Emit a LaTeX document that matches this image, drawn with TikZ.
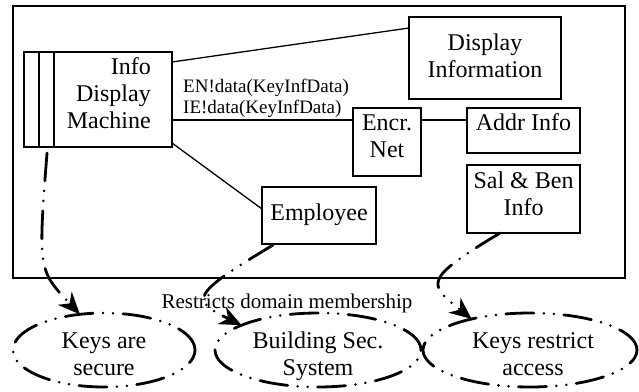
\documentclass[tikz,border=0pt]{standalone}
\usepackage{fontspec}
\setmainfont{Liberation Serif}
\usetikzlibrary{shapes.geometric,arrows.meta,calc}
\begin{document}
\begin{tikzpicture}[x=1pt,y=-1pt,
  box/.style={draw,line width=1.3pt,inner sep=0pt,outer sep=0pt},
  big/.style={font=\fontsize{24}{27}\selectfont,inner sep=0pt,align=center,anchor=base},
  small/.style={font=\fontsize{19}{21}\selectfont,inner sep=0pt,anchor=base west},
  ddot/.style={line width=2.8pt,line cap=round,dash pattern=on 28pt off 10pt on 0pt off 10pt on 0pt off 10pt},
  goal/.style={ellipse,draw,ddot,inner sep=0pt,outer sep=0pt,minimum height=74pt},
  arr/.style={ddot,-{Stealth[length=22pt,width=19pt,inset=7pt]}},
  conn/.style={line width=1.3pt}
]
\useasboundingbox (0,0) rectangle (639,391);
% frame
\node[box,minimum width=612pt,minimum height=272pt] (frame) at (319,142) {};
% boxes
\node[box,minimum width=148pt,minimum height=95pt] (idm) at (98,99.5) {};
\draw[conn] ($(idm.north west)+(15,0)$) -- ($(idm.south west)+(15,0)$);
\draw[conn] ($(idm.north west)+(30,0)$) -- ($(idm.south west)+(30,0)$);
\node[box,minimum width=152pt,minimum height=82pt] (di) at (485,58) {};
\node[box,minimum width=68pt,minimum height=68pt] (en) at (387,142) {};
\node[box,minimum width=113pt,minimum height=45pt] (addr) at (523.5,130.5) {};
\node[box,minimum width=113pt,minimum height=68pt] (sb) at (523.5,199) {};
\node[box,minimum width=114pt,minimum height=57pt] (emp) at (319,215.5) {};
% texts (base = baseline of last line)
\node[big,align=right,anchor=base east] (tidm) at (151,128) {Info\\Display\\Machine};
\node[big] (tdi) at (485,77) {Display\\Information};
\node[big] (ten) at (387,157) {Encr.\\Net};
\node[big] (taddr) at (523.5,130) {Addr Info};
\node[big] (tsb) at (523.5,215) {Sal \& Ben\\Info};
\node[big] (temp) at (319,220) {Employee};
\node[small] (len) at (183,92) {EN!data(KeyInfData)};
\node[small] (lie) at (183,113) {IE!data(KeyInfData)};
% connectors
\draw[conn] ($(idm.north east)+(0,10)$) -- ($(di.north west)+(0,11)$);
\coordinate (enin) at ($(en.north west)+(0,12)$);
\draw[conn] (enin -| idm.east) -- (enin);
\draw[conn] ($(en.north east)+(0,12)$) -- ($(addr.north west)+(0,12)$);
\draw[conn] ($(idm.south east)+(0,-4)$) -- ($(emp.north west)+(0,22)$);
% goals
\node[goal,minimum width=182pt] (kas) at (104,350) {};
\node[goal,minimum width=206pt] (bss) at (318,350) {};
\node[goal,minimum width=214pt] (kra) at (530,350) {};
\node[big] (tkas) at (104,375) {Keys are\\secure};
\node[big] (tbss) at (318,375) {Building Sec.\\System};
\node[big] (tkra) at (533,375) {Keys restrict\\access};
\node[font=\fontsize{21}{24}\selectfont,inner sep=0pt,anchor=base] (lrd) at (287,308) {Restricts domain membership};
% dash-dot arrows
\draw[arr] ($(idm.south west)+(23,6)$) .. controls (38,270) .. (kas.124);
\draw[arr] ($(emp.south west)+(11,1)$) .. controls (190,295) and (190,300) .. (bss.162);
\draw[arr] ($(sb.south west)+(33,0)$) .. controls (422,280) and (428,284) .. (kra.152);
\end{tikzpicture}
\end{document}
